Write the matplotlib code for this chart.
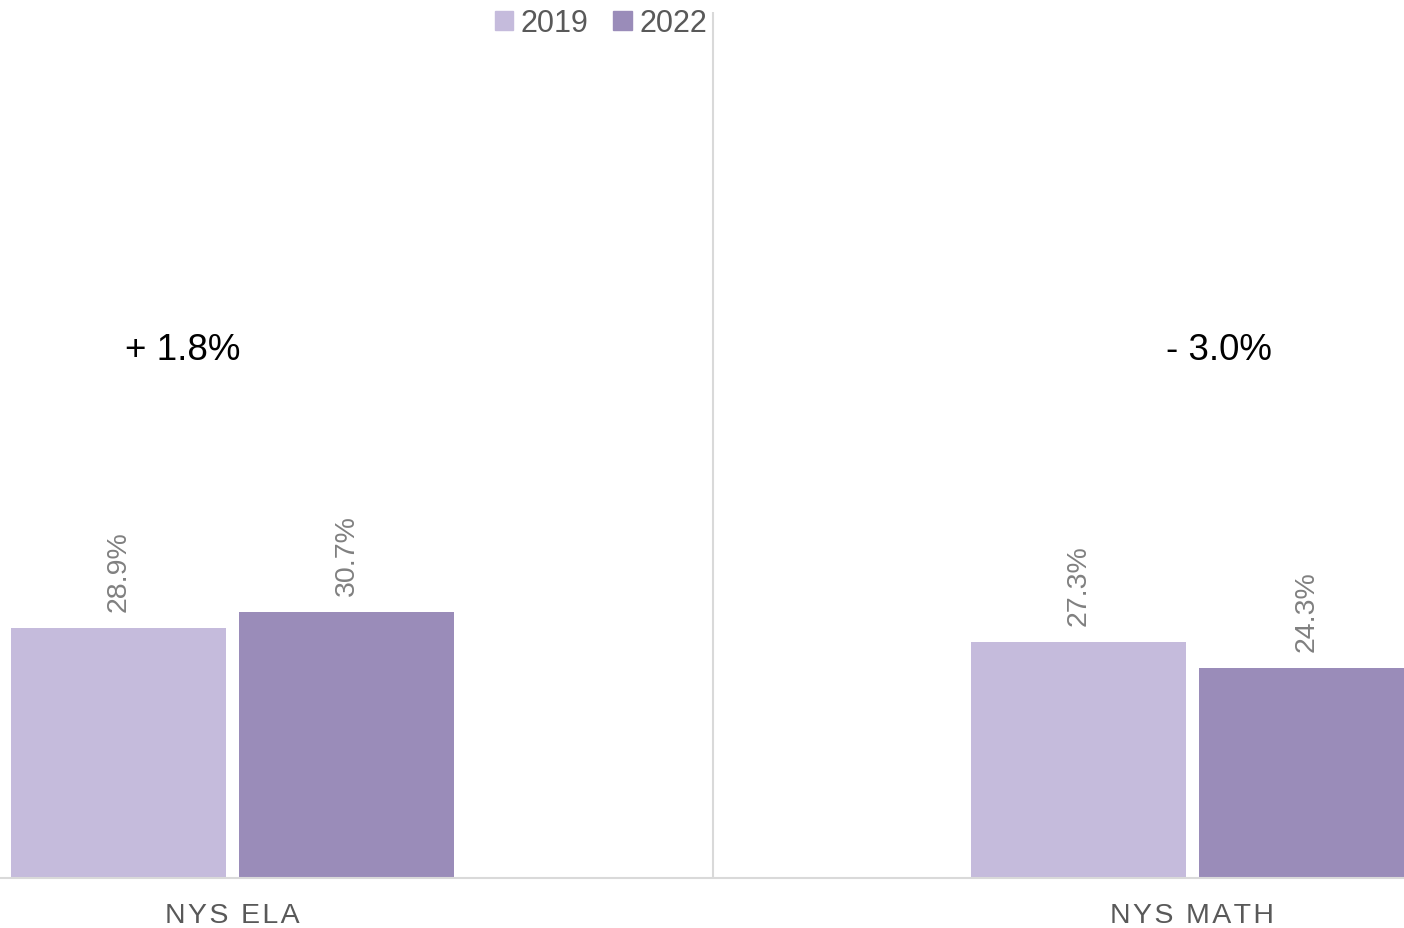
import matplotlib.pyplot as plt
from matplotlib.patches import Patch

# data
categories = ['NYS ELA', 'NYS MATH']
years = ['2019', '2022']
vals_2019 = [28.9, 27.3]
vals_2022 = [30.7, 24.3]
colors = ['#C5BBDC', '#9A8CB9']

plt.rcParams['font.family'] = ['Liberation Sans', 'DejaVu Sans']

fig = plt.figure(figsize=(14.04, 9.29), dpi=100)
ax = fig.add_axes([0, 50 / 929, 1, 866 / 929])

x = list(range(len(categories)))
w = 0.224
off = 0.119
series = [vals_2019, vals_2022]
for i, vals in enumerate(series):
    xs = [xx + (i * 2 - 1) * off for xx in x]
    bars = ax.bar(xs, vals, width=w, color=colors[i], zorder=2)
    for b, v in zip(bars, vals):
        ax.annotate(f'{v:.1f}%', (b.get_x() + b.get_width() / 2, v),
                    xytext=(0, 12), textcoords='offset points',
                    ha='center', va='bottom', rotation=90,
                    fontsize=20.5, color='#808080')

# change labels
diff_pos = [-0.052, 1.028]
for i in x:
    d = vals_2022[i] - vals_2019[i]
    sign = '+' if d >= 0 else '-'
    ax.text(diff_pos[i], 61.0, f'{sign} {abs(d):.1f}%', ha='center',
            va='center', fontsize=26.5, color='black')

ax.set_xlim(-0.2425, 1.2204)
ax.set_ylim(0, 100)
ax.axvline(0.5, color='#D9D9D9', lw=1.5, zorder=1)
for s in ['top', 'right', 'left']:
    ax.spines[s].set_visible(False)
ax.spines['bottom'].set_color('#D9D9D9')
ax.spines['bottom'].set_linewidth(1.5)
ax.set_yticks([])
ax.set_xticks(x)
ax.set_xticklabels(['\u200a'.join(c) for c in categories], fontsize=20.5,
                   color='#595959')
ax.tick_params(axis='x', length=0, pad=17)

handles = [Patch(color=c) for c in colors]
fig.legend(handles, years, loc='center', bbox_to_anchor=(601 / 1404, 1 - 24 / 929),
           ncol=2, frameon=False, fontsize=22, labelcolor='#595959',
           handlelength=0.6, handleheight=0.6, handletextpad=0.25,
           columnspacing=0.8)

fig.savefig('out.png', dpi=100)
